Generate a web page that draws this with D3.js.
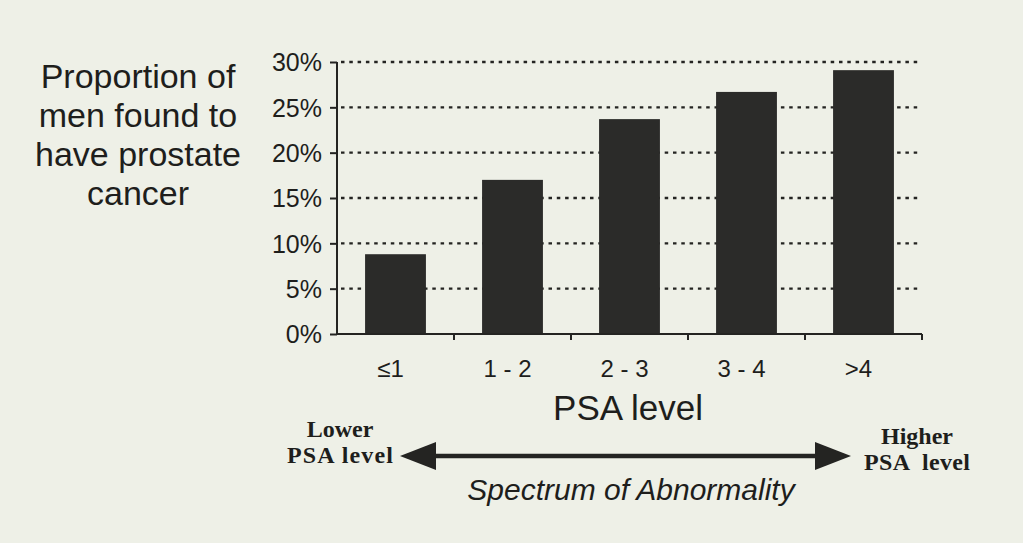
<html>
<head>
<script src="https://d3js.org/d3.v7.min.js"></script>
<style>
  body { margin: 0; background: #eef0e7; }
  text { font-family: Arial, "Liberation Sans", sans-serif; fill: #1e1e1c; }
  text.serif { font-family: "Liberation Serif", "Times New Roman", serif; font-weight: bold; }
</style>
</head>
<body>
<svg width=1023 height=543></svg>
<script>
// values
const categories = ['≤1', '1 - 2', '2 - 3', '3 - 4', '>4'];
const proportion = [8.8, 17.0, 23.7, 26.7, 29.1];
const yTicks = [0, 5, 10, 15, 20, 25, 30];
const yTitle = ['Proportion of', 'men found to', 'have prostate', 'cancer'];

const svg = d3.select('svg');
svg.append('rect').attr('width', 1023).attr('height', 543).attr('fill', '#eef0e7');

const x = d3.scaleBand().domain(categories).range([337, 922]).paddingInner(0.48).paddingOuter(0.24);
const y = d3.scaleLinear().domain([0, 30]).range([334, 62]);
const ink = '#242422';

// dotted grid
svg.append('g')
  .selectAll('line')
  .data(yTicks.slice(1))
  .join('line')
  .attr('x1', 341).attr('x2', 922)
  .attr('y1', d => y(d)).attr('y2', d => y(d))
  .attr('stroke', ink).attr('stroke-width', 2.4)
  .attr('stroke-dasharray', '3.5 4.8');

// bars
svg.append('g')
  .selectAll('rect')
  .data(proportion)
  .join('rect')
  .attr('x', (d, i) => x(categories[i]))
  .attr('width', x.bandwidth())
  .attr('y', d => y(d))
  .attr('height', d => y(0) - y(d) + 1)
  .attr('fill', '#2b2b29');

// y axis
const yAxis = svg.append('g')
  .attr('transform', 'translate(337,0)')
  .call(d3.axisLeft(y).tickValues(yTicks).tickFormat(d => d + '%').tickSize(7).tickPadding(8));
yAxis.selectAll('line, path').attr('stroke', ink).attr('stroke-width', 2);
yAxis.select('.domain').attr('d', `M0,${y(30)}V${y(0)}`);
yAxis.selectAll('text').attr('font-size', 25).attr('fill', ink).attr('dy', '0.35em');

// x axis: ticks at band boundaries
const bounds = d3.scaleLinear().domain([0, categories.length]).range([337, 922]);
const xg = svg.append('g').attr('transform', `translate(0,${y(0)})`);
xg.append('line').attr('x1', 337).attr('x2', 922).attr('stroke', ink).attr('stroke-width', 2);
xg.selectAll('line.tk')
  .data(d3.range(1, categories.length + 1))
  .join('line')
  .attr('class', 'tk')
  .attr('x1', d => bounds(d)).attr('x2', d => bounds(d))
  .attr('y1', 0).attr('y2', 6)
  .attr('stroke', ink).attr('stroke-width', 2);
xg.selectAll('text')
  .data(categories)
  .join('text')
  .attr('x', d => x(d) + x.bandwidth() / 2 - 5)
  .attr('y', 43)
  .attr('text-anchor', 'middle')
  .attr('font-size', 24)
  .text(d => d);

svg.append('text')
  .attr('x', 628).attr('y', 420)
  .attr('text-anchor', 'middle')
  .attr('font-size', 35)
  .text('PSA level');

// y title
svg.append('g')
  .selectAll('text')
  .data(yTitle)
  .join('text')
  .attr('x', 138)
  .attr('y', (d, i) => 88 + i * 39)
  .attr('text-anchor', 'middle')
  .attr('font-size', 34)
  .text(d => d);

// spectrum arrow
svg.append('line')
  .attr('x1', 430).attr('x2', 820)
  .attr('y1', 456).attr('y2', 456)
  .attr('stroke', ink).attr('stroke-width', 4.5);
const head = (tip, dir) => `M${tip},456L${tip + dir * 36},442L${tip + dir * 36},470Z`;
svg.append('path').attr('d', head(400, 1)).attr('fill', ink);
svg.append('path').attr('d', head(851, -1)).attr('fill', ink);

[['Lower', 340, 437], ['PSA level', 340, 463], ['Higher', 917, 444], ['PSA  level', 917, 470]]
  .forEach(([t, tx, ty]) => {
    svg.append('text')
      .attr('class', 'serif')
      .attr('x', tx).attr('y', ty)
      .attr('text-anchor', 'middle')
      .attr('font-size', 24)
      .attr('textLength', t.startsWith('PSA') ? 106 : null)
      .style('white-space', 'pre')
      .text(t);
  });

svg.append('text')
  .attr('x', 631).attr('y', 500)
  .attr('text-anchor', 'middle')
  .attr('font-style', 'italic')
  .attr('font-size', 30)
  .text('Spectrum of Abnormality');
</script>
</body>
</html>
